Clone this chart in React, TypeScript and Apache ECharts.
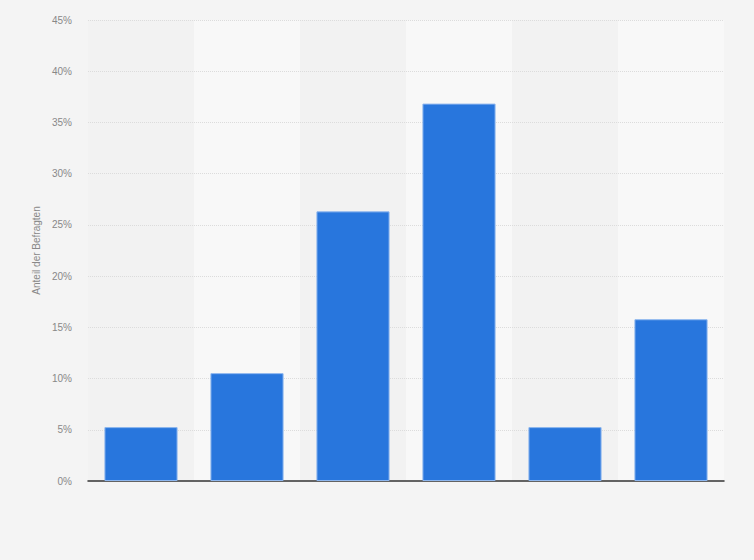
import React, { useEffect, useRef } from 'react';
import * as echarts from 'echarts';

const categories = ['A', 'B', 'C', 'D', 'E', 'F'];
const shares = [5.26, 10.53, 26.32, 36.84, 5.26, 15.79];
const yTicks = [0, 5, 10, 15, 20, 25, 30, 35, 40, 45];

const FONT = '"Liberation Sans", Arial, sans-serif';

const App: React.FC = () => {
  const chartRef = useRef<HTMLDivElement>(null);

  useEffect(() => {
    document.body.style.margin = '0';
    if (!chartRef.current) return;
    const chart = echarts.init(chartRef.current, undefined, { renderer: 'svg' });

    chart.setOption({
      animation: false,
      backgroundColor: '#f4f4f4',
      grid: { left: 88, right: 30, top: 20, bottom: 79 },
      xAxis: {
        type: 'category',
        data: categories,
        z: 0,
        axisLine: { lineStyle: { color: '#333', width: 1.5 } },
        axisTick: { show: false },
        axisLabel: { show: false },
        splitArea: { show: true, areaStyle: { color: ['#f2f2f2', '#f8f8f8'] } }
      },
      yAxis: {
        type: 'value',
        z: 1,
        min: yTicks[0],
        max: yTicks[yTicks.length - 1],
        interval: 5,
        name: 'Anteil der Befragten',
        nameLocation: 'middle',
        nameGap: 43,
        nameTextStyle: { color: '#888', fontSize: 10, fontFamily: FONT },
        axisLine: { show: false },
        axisTick: { show: false },
        axisLabel: {
          color: '#888',
          fontSize: 10,
          fontFamily: FONT,
          margin: 16,
          formatter: '{value}%'
        },
        splitLine: {
          showMinLine: false,
          lineStyle: { color: '#dcdcdc', width: 1, type: 'dotted' }
        }
      },
      series: [
        {
          type: 'bar',
          data: shares,
          z: 3,
          barCategoryGap: '31%',
          itemStyle: { color: '#2876dd', borderColor: '#8db6ee', borderWidth: 1 }
        }
      ]
    });

    return () => chart.dispose();
  }, []);

  return <div ref={chartRef} style={{ width: 754, height: 560 }} />;
};

export default App;
